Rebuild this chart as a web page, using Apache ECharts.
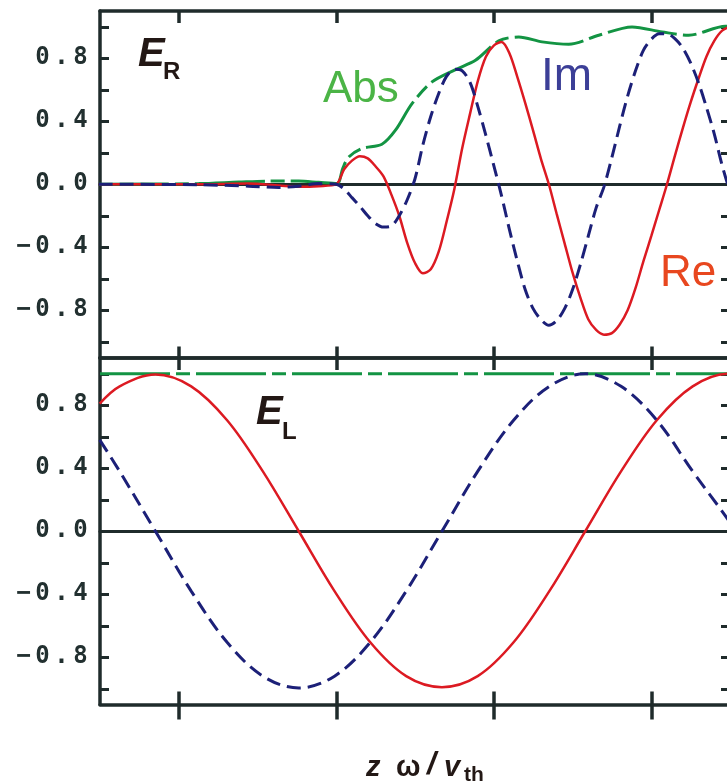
<!DOCTYPE html>
<html>
<head>
<meta charset="utf-8">
<script src="https://cdn.jsdelivr.net/npm/echarts@6/dist/echarts.min.js"></script>
<style>
html, body { margin: 0; padding: 0; background: #ffffff; }
#chart { width: 727px; height: 783px; }
</style>
</head>
<body>
<div id="chart"></div>
<script>
// ---- E_R panel (upper): field components along z*omega/v_th ----
// quiet region before the wave front
const erLeadX = [0.492, 1.127, 1.444, 1.635, 1.762, 1.889];
const erLeadRe = [0, 0, 0.004, -0.008, -0.016, -0.012];
const erLeadIm = [0, -0.003, -0.012, -0.02, -0.012, 0.004];
// wave region, sampled every 0.05
const erX = [2.00, 2.05, 2.10, 2.15, 2.20, 2.25, 2.30, 2.35, 2.40, 2.45,
             2.50, 2.55, 2.60, 2.65, 2.70, 2.75, 2.80, 2.85, 2.90, 2.95,
             3.00, 3.05, 3.10, 3.15, 3.20, 3.25, 3.30, 3.35, 3.40, 3.45,
             3.50, 3.55, 3.60, 3.65, 3.70, 3.75, 3.80, 3.85, 3.90, 3.95,
             4.00, 4.05, 4.10, 4.15, 4.20, 4.25, 4.30, 4.35, 4.40, 4.45, 4.50];
const erReY = [0, 0.095, 0.15, 0.178, 0.164, 0.113, 0.05, -0.066, -0.2, -0.37,
               -0.5, -0.565, -0.54, -0.43, -0.24, -0.03, 0.23, 0.45, 0.66, 0.81,
               0.88, 0.903, 0.83, 0.68, 0.515, 0.34, 0.16, 0, -0.19, -0.375,
               -0.56, -0.72, -0.857, -0.925, -0.955, -0.945, -0.89, -0.8, -0.66, -0.49,
               -0.33, -0.165, 0, 0.18, 0.355, 0.52, 0.67, 0.81, 0.91, 0.975, 1.0];
const erImY = [0, -0.03, -0.085, -0.14, -0.2, -0.25, -0.272, -0.265, -0.2, -0.1,
               0.035, 0.25, 0.43, 0.575, 0.685, 0.73, 0.72, 0.645, 0.49, 0.31,
               0.12, -0.075, -0.29, -0.49, -0.67, -0.79, -0.86, -0.895, -0.865, -0.79,
               -0.67, -0.51, -0.33, -0.15, -0.015, 0.17, 0.37, 0.56, 0.72, 0.85,
               0.92, 0.955, 0.955, 0.925, 0.865, 0.77, 0.645, 0.49, 0.32, 0.12, -0.05];

const erAbsX = [0.492, 1.127, 1.381, 1.571, 1.762, 1.889, 2.005, 2.041, 2.079, 2.163, 2.290, 2.376, 2.481, 2.608, 2.757, 2.884, 3.032, 3.159, 3.307, 3.476, 3.667, 3.878, 4.069, 4.238, 4.471, 4.5];
const erAbsY = [0, 0.004, 0.014, 0.02, 0.02, 0.012, 0.005, 0.1, 0.173, 0.227, 0.254, 0.343, 0.512, 0.65, 0.728, 0.787, 0.91, 0.935, 0.904, 0.889, 0.946, 0.999, 0.967, 0.946, 1.003, 1.0];

// ---- E_L panel (lower) ----
const elX = [0.498, 0.625, 0.852, 1.079, 1.307, 1.534, 1.762, 1.989, 2.216, 2.444, 2.671, 2.898, 3.126, 3.353, 3.581, 3.808, 4.035, 4.263, 4.49, 4.5];
const elReY = [0.81, 0.92, 0.995, 0.92, 0.705, 0.38, 0, -0.38, -0.705, -0.92, -0.99, -0.92, -0.705, -0.38, 0, 0.38, 0.705, 0.92, 1.0, 1.0];
const elImY = [0.58, 0.38, 0, -0.38, -0.705, -0.92, -0.995, -0.92, -0.705, -0.38, 0, 0.38, 0.705, 0.92, 1.0, 0.92, 0.705, 0.38, 0.07, 0.04];
const elAbsX = [0.5, 4.5];
const elAbsY = [1.0, 1.0];

// ---- axis ticks and labels ----
const xTickValues = [1, 2, 3, 4];
const yTickValues = [-1.0, -0.8, -0.6, -0.4, -0.2, 0, 0.2, 0.4, 0.6, 0.8, 1.0];
const yLabelValues = [-0.8, -0.4, 0, 0.4, 0.8];

const pairs = (xs, ys) => xs.map((x, i) => [x, ys[i]]);

const AXIS_COLOR = '#1f2b2b';
const RE_COLOR = '#dc1a22';
const IM_COLOR = '#1c2078';
const ABS_COLOR = '#139443';
const TEXT_COLOR = '#231815';

function yLabelFormatter(v) {
  const s = (v < 0 ? '\u2212' : '') + Math.abs(v).toFixed(1);
  return s.split('').map(c => '{c|' + c + '}').join('');
}

function frameX(gridIndex, position, tickLen, inside, showLine) {
  return {
    type: 'value', gridIndex, position, min: 0.5, max: 4.5,
    axisLine: { show: showLine, onZero: false, lineStyle: { color: AXIS_COLOR, width: 3.5 } },
    axisTick: { show: true, inside, length: tickLen, customValues: xTickValues,
      lineStyle: { color: AXIS_COLOR, width: 3.5 } },
    axisLabel: { show: false },
    splitLine: { show: false }
  };
}

function zeroX(gridIndex) {
  return {
    type: 'value', gridIndex, position: 'bottom', min: 0.5, max: 4.5,
    axisLine: { show: true, onZero: true, lineStyle: { color: AXIS_COLOR, width: 3 } },
    axisTick: { show: false }, axisLabel: { show: false }, splitLine: { show: false }
  };
}

function frameY(gridIndex, position, withLabels) {
  return {
    type: 'value', gridIndex, position, min: -1.1, max: 1.1,
    axisLine: { show: true, onZero: false, lineStyle: { color: AXIS_COLOR, width: 3.5 } },
    axisTick: { show: true, inside: true, length: 9, customValues: yTickValues,
      lineStyle: { color: AXIS_COLOR, width: 3 } },
    axisLabel: withLabels ? {
      show: true, customValues: yLabelValues, margin: 10,
      formatter: yLabelFormatter,
      rich: { c: { width: 19, align: 'center', fontFamily: 'DejaVu Sans Mono',
        fontWeight: 'bold', fontSize: 24, color: '#223030', lineHeight: 26 } }
    } : { show: false },
    splitLine: { show: false }
  };
}

function reSeries(xi, yi, data, smooth) {
  return { type: 'line', xAxisIndex: xi, yAxisIndex: yi, data, smooth,
    showSymbol: false, z: 4, lineStyle: { color: RE_COLOR, width: 2.5 } };
}
function imSeries(xi, yi, data, smooth) {
  return { type: 'line', xAxisIndex: xi, yAxisIndex: yi, data, smooth,
    showSymbol: false, z: 5, lineStyle: { color: IM_COLOR, width: 3, type: [14, 7] } };
}
function absSeries(xi, yi, data, smooth) {
  return { type: 'line', xAxisIndex: xi, yAxisIndex: yi, data, smooth,
    showSymbol: false, z: 3, lineStyle: { color: ABS_COLOR, width: 3, type: [70, 6, 14, 6] } };
}

function label(text, left, cy, size, color, style) {
  return { type: 'text', left, top: cy - size / 2, z: 10,
    style: { text, fill: color, fontSize: size, fontFamily: 'Liberation Sans',
      fontStyle: style && style.italic ? 'italic' : 'normal',
      fontWeight: style && style.bold ? 'bold' : 'normal' } };
}

const erReData = pairs(erLeadX, erLeadRe).concat(pairs(erX, erReY));
const erImData = pairs(erLeadX, erLeadIm).concat(pairs(erX, erImY));

const chart = echarts.init(document.getElementById('chart'), null, { renderer: 'canvas' });

chart.setOption({
  backgroundColor: '#ffffff',
  animation: false,
  grid: [
    { left: 100, top: 11, width: 630, height: 346.5, outerBoundsMode: 'none', containLabel: false },
    { left: 100, top: 358, width: 630, height: 346.5, outerBoundsMode: 'none', containLabel: false }
  ],
  xAxis: [
    frameX(0, 'bottom', 11, true, true),   // 0: upper panel bottom
    frameX(0, 'top', 12, true, true),      // 1: upper panel top
    frameX(1, 'bottom', 13, true, true),   // 2: lower panel bottom
    frameX(1, 'top', 12, true, true),      // 3: lower panel top
    frameX(1, 'bottom', 15, false, false), // 4: outward ticks below lower panel
    zeroX(0),                               // 5: zero line, upper
    zeroX(1)                                // 6: zero line, lower
  ],
  yAxis: [
    frameY(0, 'left', true),
    frameY(0, 'right', false),
    frameY(1, 'left', true),
    frameY(1, 'right', false)
  ],
  series: [
    absSeries(0, 0, pairs(erAbsX, erAbsY), 0.3),
    reSeries(0, 0, erReData, 0.3),
    imSeries(0, 0, erImData, 0.3),
    absSeries(2, 2, pairs(elAbsX, elAbsY), 0),
    reSeries(2, 2, pairs(elX, elReY), 0.35),
    imSeries(2, 2, pairs(elX, elImY), 0.35)
  ],
  graphic: [
    label('E', 138, 55, 40, TEXT_COLOR, { italic: true, bold: true }),
    label('R', 163, 72, 24, TEXT_COLOR, { bold: true }),
    label('E', 256, 413, 40, TEXT_COLOR, { italic: true, bold: true }),
    label('L', 282, 432, 24, TEXT_COLOR, { bold: true }),
    label('Abs', 323, 90, 44, '#4bb446'),
    label('Im', 541, 77, 46, '#3c3f97'),
    label('Re', 660, 274, 44, '#e8471f'),
    label('z', 366, 768, 29, TEXT_COLOR, { italic: true, bold: true }),
    label('\u03c9', 396, 768, 29, TEXT_COLOR, { bold: true }),
    label('/', 427, 765, 32, TEXT_COLOR, { italic: true, bold: true }),
    label('v', 444, 768, 29, TEXT_COLOR, { italic: true, bold: true }),
    label('th', 464, 775, 21, TEXT_COLOR, { bold: true })
  ]
});
</script>
</body>
</html>
